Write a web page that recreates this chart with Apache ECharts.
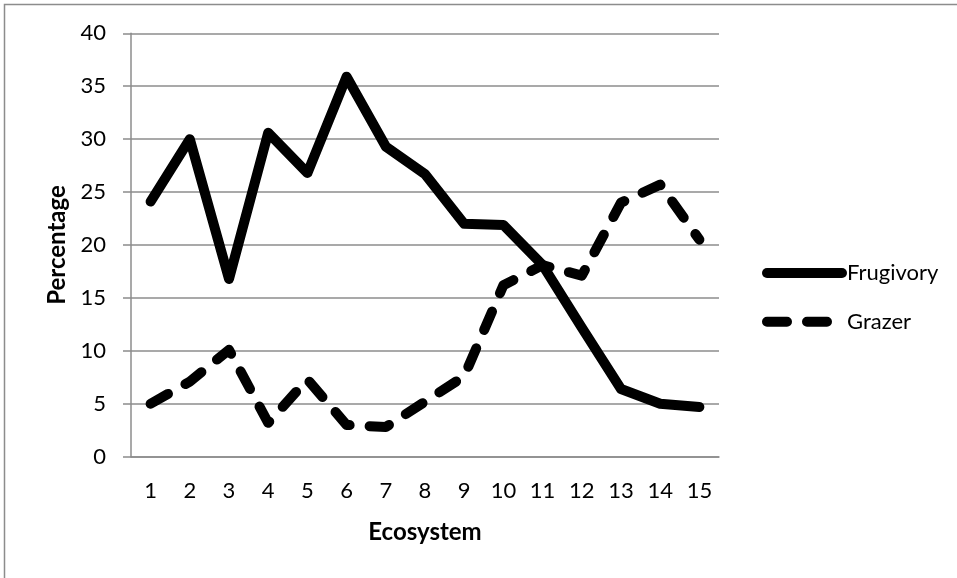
<!DOCTYPE html>
<html>
<head>
<meta charset="utf-8">
<script src="https://cdn.jsdelivr.net/npm/echarts@6/dist/echarts.min.js"></script>
<style>
html,body{margin:0;padding:0;background:#fff;}
#chart{width:957px;height:578px;}
</style>
</head>
<body>
<div id="chart"></div>
<script>
const categories = ['1','2','3','4','5','6','7','8','9','10','11','12','13','14','15'];
const frugivory = [24.1, 30.0, 16.8, 30.6, 26.8, 35.9, 29.3, 26.7, 22.0, 21.9, 18.1, 12.2, 6.4, 5.0, 4.7];
const grazer = [5.0, 7.1, 10.1, 3.2, 7.3, 3.0, 2.8, 5.2, 7.6, 16.2, 18.1, 17.1, 24.0, 25.7, 20.5];
const yTicks = {min: 0, max: 40, interval: 5};

const chart = echarts.init(document.getElementById('chart'), null, {renderer: 'canvas'});
const font = 'Lato, "Open Sans", sans-serif';
chart.setOption({
  animation: false,
  backgroundColor: '#fff',
  textStyle: {fontFamily: font},
  graphic: [{
    type: 'polyline',
    shape: {points: [[4.5, 590], [4.5, 4.5], [970, 4.5]]},
    style: {stroke: '#8c8c8c', lineWidth: 1.5, fill: null},
    silent: true
  }],
  grid: {left: 131, right: 238, top: 33.3, bottom: 121.3, containLabel: false},
  legend: {
    orient: 'vertical',
    left: 757,
    top: 255,
    itemWidth: 75,
    itemHeight: 14,
    itemGap: 22.7,
    itemTextGap: 5,
    itemStyle: {opacity: 0},
    lineStyle: {width: 'inherit', type: 'inherit', cap: 'round'},
    textStyle: {fontFamily: font, fontSize: 22, color: '#000', lineHeight: 26},
    data: ['Frugivory', 'Grazer']
  },
  xAxis: {
    type: 'category',
    data: categories,
    boundaryGap: true,
    name: 'Ecosystem',
    nameLocation: 'middle',
    nameGap: 64,
    nameTextStyle: {fontFamily: font, fontSize: 24, fontWeight: 'bold', color: '#000'},
    axisLine: {show: true, lineStyle: {color: '#8c8c8c', width: 1.5}},
    axisTick: {show: false},
    axisLabel: {margin: 23, fontFamily: font, fontSize: 22, color: '#000'},
    splitLine: {show: false}
  },
  yAxis: {
    type: 'value',
    min: yTicks.min,
    max: yTicks.max,
    interval: yTicks.interval,
    name: 'Percentage',
    nameLocation: 'middle',
    nameGap: 59,
    nameRotate: 90,
    nameTextStyle: {fontFamily: font, fontSize: 24, fontWeight: 'bold', color: '#000'},
    axisLine: {show: true, lineStyle: {color: '#8c8c8c', width: 1.5}},
    axisTick: {show: true, length: 8, lineStyle: {color: '#8c8c8c', width: 1.5}},
    axisLabel: {margin: 25, fontFamily: font, fontSize: 22, color: '#000'},
    splitLine: {show: true, lineStyle: {color: '#8c8c8c', width: 1.5}}
  },
  series: [
    {
      name: 'Frugivory',
      type: 'line',
      data: frugivory,
      symbol: 'none',
      color: '#000',
      lineStyle: {color: '#000', width: 10, cap: 'round', join: 'round'}
    },
    {
      name: 'Grazer',
      type: 'line',
      data: grazer,
      symbol: 'none',
      color: '#000',
      lineStyle: {color: '#000', width: 10, type: [20, 20], cap: 'round', join: 'round'}
    }
  ]
});
</script>
</body>
</html>
